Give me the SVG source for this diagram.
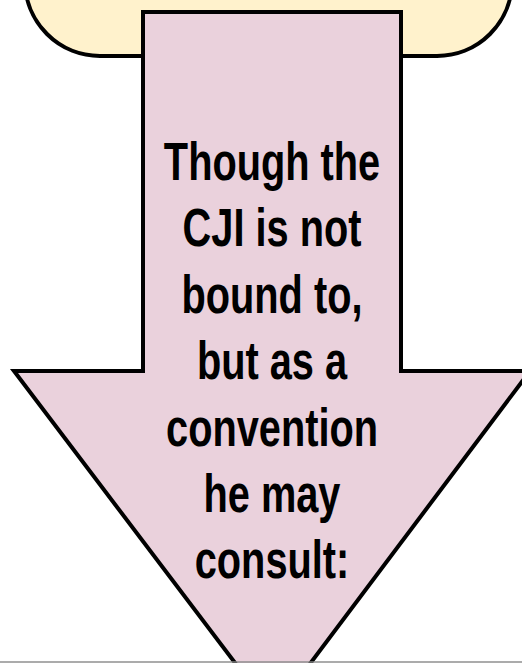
<svg xmlns="http://www.w3.org/2000/svg" width="522" height="663" viewBox="0 0 522 663">
<style>
.shape{stroke:#000;stroke-width:4;stroke-linejoin:miter}
.lbl{font-family:"Liberation Sans",Arial,sans-serif;font-weight:bold;font-size:53px;fill:#000;text-anchor:middle}
</style>
<rect width="522" height="663" fill="#fff"/>
<g id="top-box">
<rect class="shape" x="25" y="-100" width="487" height="156" rx="75" ry="75" fill="#FFF2CC"/>
</g>
<g id="arrow">
<polygon class="shape" fill="#EAD1DC" points="143,12 401,12 401,371 530,371 273,713 14,371 143,371"/>
<g transform="translate(272,0) scale(0.75,1)">
<text class="lbl" x="0" y="180">Though the</text>
<text class="lbl" x="0" y="246">CJI is not</text>
<text class="lbl" x="0" y="313">bound to,</text>
<text class="lbl" x="0" y="379">but as a</text>
<text class="lbl" x="0" y="446">convention</text>
<text class="lbl" x="0" y="512">he may</text>
<text class="lbl" x="0" y="578">consult:</text>
</g>
</g>
<g id="connectors"></g>
<rect x="0" y="661" width="522" height="2" fill="#888" opacity="0.7"/>
</svg>
